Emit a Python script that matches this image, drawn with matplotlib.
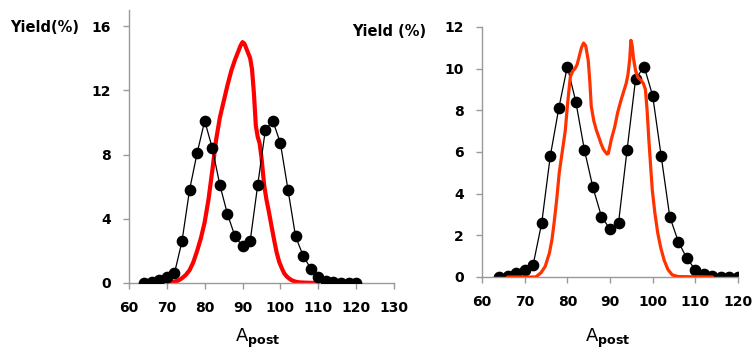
import matplotlib.pyplot as plt

# black dots (same data in both panels)
a_dots = [64, 66, 68, 70, 72, 74, 76, 78, 80, 82, 84, 86, 88, 90, 92, 94, 96,
          98, 100, 102, 104, 106, 108, 110, 112, 114, 116, 118, 120]
y_dots = [0.0, 0.05, 0.2, 0.35, 0.6, 2.6, 5.8, 8.1, 10.1, 8.4, 6.1, 4.3, 2.9, 2.3,
          2.6, 6.1, 9.5, 10.1, 8.7, 5.8, 2.9, 1.7, 0.9, 0.35, 0.15, 0.05, 0.02, 0.02, 0.02]

# red curve, left panel
a_left = [66, 70, 72, 73, 74, 75, 76, 77, 78, 79, 80, 81, 82, 83, 84, 85, 86, 87,
          88, 89, 89.5, 90, 90.5, 91, 91.5, 92, 92.5, 93, 93.5, 94, 94.5, 95, 95.7,
          96.3, 96.9, 97.6, 98.4, 99, 99.7, 100.4, 101, 101.7, 102.3, 103, 104, 105,
          106.7, 110, 114]
y_left = [0, 0.03, 0.08, 0.15, 0.3, 0.5, 0.8, 1.3, 2.0, 2.8, 3.8, 5.2, 7.0, 8.9,
          10.3, 11.3, 12.3, 13.2, 13.9, 14.5, 14.8, 15.0, 14.9, 14.6, 14.3, 14.0,
          13.3, 11.8, 9.8, 9.1, 8.7, 7.8, 6.1, 5.2, 4.5, 3.6, 2.6, 1.9, 1.3, 0.9,
          0.6, 0.4, 0.28, 0.17, 0.08, 0.04, 0.02, 0, 0]

# red curve, right panel
a_right = [66, 72.6, 73.8, 74.8, 75.8, 76.4, 76.9, 77.5, 78.1, 78.8, 79.5, 80.1,
           80.7, 81.3, 81.8, 82.3, 82.8, 83.3, 83.8, 84.3, 84.9, 85.3, 85.6, 86.2,
           86.8, 87.4, 87.9, 88.4, 88.9, 89.3, 89.6, 90.0, 90.3, 90.7, 91.1, 91.8,
           92.6, 93.2, 93.8, 94.2, 94.6, 94.9, 95.2, 95.5, 96.0, 96.5, 97.2, 97.8,
           98.3, 98.7, 99.1, 99.5, 99.9, 100.5, 101.2, 101.9, 102.7, 103.6, 104.6,
           106, 114]
y_right = [0, 0, 0.2, 0.5, 1.15, 1.8, 2.6, 3.7, 5.0, 6.0, 7.0, 8.4, 9.6, 9.9, 10.0,
           10.2, 10.6, 11.0, 11.23, 11.1, 10.4, 9.3, 8.2, 7.5, 7.05, 6.7, 6.4, 6.15,
           6.0, 5.9, 5.93, 6.3, 6.6, 6.9, 7.2, 7.9, 8.5, 8.9, 9.3, 9.7, 10.4, 11.36,
           11.1, 10.5, 9.9, 9.6, 9.45, 9.3, 9.0, 8.0, 6.6, 5.4, 4.2, 3.1, 2.1, 1.4,
           0.8, 0.35, 0.1, 0.02, 0]

fig = plt.figure(figsize=(7.55, 3.54), dpi=100)

def style(ax):
    for s in ['top', 'right']:
        ax.spines[s].set_visible(False)
    for s in ['left', 'bottom']:
        ax.spines[s].set_color('#999999')
        ax.spines[s].set_linewidth(1)
    ax.tick_params(colors='#999999', labelcolor='black', length=4, width=1)
    ax.tick_params(axis='y', pad=9)
    ax.tick_params(axis='x', pad=9)
    for lab in ax.get_xticklabels() + ax.get_yticklabels():
        lab.set_fontweight('bold')
        lab.set_fontsize(10)

ax1 = fig.add_axes([129/755, 1 - 283/354, 265/755, 273/354])
ax1.plot(a_left, y_left, color='#ff0000', lw=3, zorder=2,
         solid_joinstyle='round', solid_capstyle='round')
ax1.plot(a_dots, y_dots, color='black', lw=0.9, marker='o', ms=7.4, zorder=3)
ax1.set_xlim(60, 130)
ax1.set_ylim(0, 17)
ax1.set_xticks(range(60, 131, 10))
ax1.set_yticks([0, 4, 8, 12, 16])
style(ax1)

ax2 = fig.add_axes([482/755, 1 - 277/354, 256/755, 250/354])
ax2.plot(a_dots, y_dots, color='black', lw=0.9, marker='o', ms=7.4, zorder=2)
ax2.plot(a_right, y_right, color='#ff3300', lw=2.3, zorder=3,
         solid_joinstyle='round', solid_capstyle='round')
ax2.set_xlim(60, 120)
ax2.set_ylim(0, 12)
ax2.set_xticks(range(60, 121, 10))
ax2.set_yticks(range(0, 13, 2))
style(ax2)

fig.text(10/755, 1 - 27/354, 'Yield(%)', fontsize=10.5, fontweight='bold', va='center', ha='left')
fig.text(352/755, 1 - 32/354, 'Yield (%)', fontsize=10.5, fontweight='bold', va='center', ha='left')
fig.text(258/755, 1 - 338/354, r'A$_{\bf post}$', fontsize=13, va='center', ha='center')
fig.text(608/755, 1 - 338/354, r'A$_{\bf post}$', fontsize=13, va='center', ha='center')

fig.savefig('out.png', dpi=100)
